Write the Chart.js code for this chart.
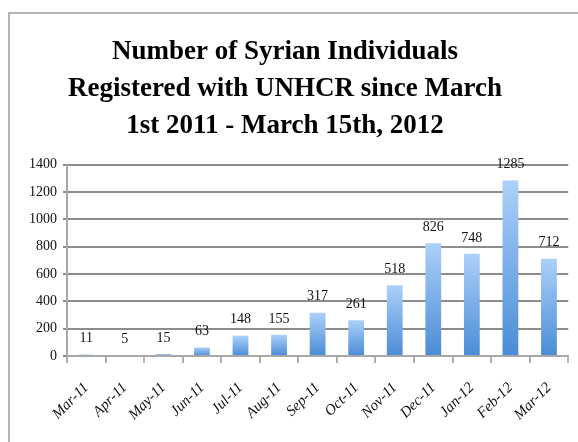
<!DOCTYPE html>
<html>
<head>
<meta charset="utf-8">
<script src="https://cdn.jsdelivr.net/npm/chart.js@4/dist/chart.umd.min.js"></script>
<style>
  html, body { margin: 0; padding: 0; background: #fff; overflow: hidden; }
  #wrap { position: absolute; left: 0; top: 0; width: 578px; height: 442px; }
</style>
</head>
<body>
<div id="wrap"><canvas id="myChart"></canvas></div>
<script>
const months = [ 'Mar-11', 'Apr-11', 'May-11', 'Jun-11', 'Jul-11', 'Aug-11', 'Sep-11',
  'Oct-11', 'Nov-11', 'Dec-11', 'Jan-12', 'Feb-12', 'Mar-12' ];
const registered = [ 11, 5, 15, 63, 148, 155, 317, 261, 518, 826, 748, 1285, 712 ];
const titleLines = [ 'Number of Syrian Individuals', 'Registered with UNHCR since March', '1st 2011 - March 15th, 2012' ];

// grey frame of the chart object (top and left edges are the only ones in view)
const frame = {
  id: 'frame',
  beforeDraw( chart ) {
    const ctx = chart.ctx;
    ctx.save();
    ctx.strokeStyle = '#b4b4b4';
    ctx.lineWidth = 2;
    ctx.beginPath();
    ctx.moveTo( 9, chart.height );
    ctx.lineTo( 9, 13 );
    ctx.lineTo( chart.width, 13 );
    ctx.stroke();
    ctx.restore();
  }
};

// write the value over each bar
const barValues = {
  id: 'barValues',
  afterDatasetsDraw( chart ) {
    const ctx = chart.ctx;
    const meta = chart.getDatasetMeta( 0 );
    ctx.save();
    ctx.font = '14px "Liberation Serif"';
    ctx.fillStyle = '#111';
    ctx.textAlign = 'center';
    ctx.textBaseline = 'bottom';
    meta.data.forEach( ( bar, i ) => {
      ctx.fillText( registered[ i ], bar.x, bar.y - 9 );
    } );
    ctx.restore();
  }
};

// light at the top of each bar, darker at its foot
function barFill( context ) {
  const chart = context.chart;
  const area = chart.chartArea;
  if ( !area ) return '#7fb2ea';
  const value = context.parsed ? context.parsed.y : registered[ context.dataIndex ];
  const top = chart.scales.y.getPixelForValue( value );
  const g = chart.ctx.createLinearGradient( 0, top, 0, area.bottom );
  g.addColorStop( 0, '#acd0fa' );
  g.addColorStop( 1, '#4a8cd6' );
  return g;
}

const ctx = document.getElementById( 'myChart' ).getContext( '2d' );
const myChart = new Chart( ctx, {
  type: 'bar',
  data: {
    labels: months,
    datasets: [ {
      data: registered,
      backgroundColor: barFill,
      borderWidth: 0,
      categoryPercentage: 1,
      barPercentage: 0.41
    } ]
  },
  options: {
    responsive: true,
    maintainAspectRatio: false,
    animation: false,
    layout: { padding: { left: 0, right: 8, top: 0, bottom: 0 } },
    plugins: {
      legend: { display: false },
      tooltip: { enabled: false },
      title: {
        display: true,
        text: titleLines,
        color: '#000',
        font: { family: '"Liberation Serif"', size: 27, weight: 'bold', lineHeight: 1.38 },
        padding: { top: 33, bottom: 20 }
      }
    },
    scales: {
      x: {
        afterFit( scale ) { scale.height = 86; },
        grid: {
          offset: true,
          drawOnChartArea: false,
          tickLength: 7,
          color: '#b0b0b0',
          lineWidth: 2
        },
        border: { color: '#a8a8a8', width: 2 },
        ticks: {
          color: '#111',
          minRotation: 45,
          maxRotation: 45,
          padding: 16,
          font: { family: '"Liberation Serif"', size: 15, style: 'italic' }
        }
      },
      y: {
        min: 0,
        max: 1400,
        afterFit( scale ) { scale.width = 67; },
        ticks: {
          stepSize: 200,
          color: '#111',
          padding: 6,
          font: { family: '"Liberation Serif"', size: 14 },
          callback: ( v ) => String( v )
        },
        grid: { color: '#8c8c8c', lineWidth: 2, tickLength: 4 },
        border: { color: '#a8a8a8', width: 2 }
      }
    }
  },
  plugins: [ frame, barValues ]
} );
</script>
</body>
</html>
